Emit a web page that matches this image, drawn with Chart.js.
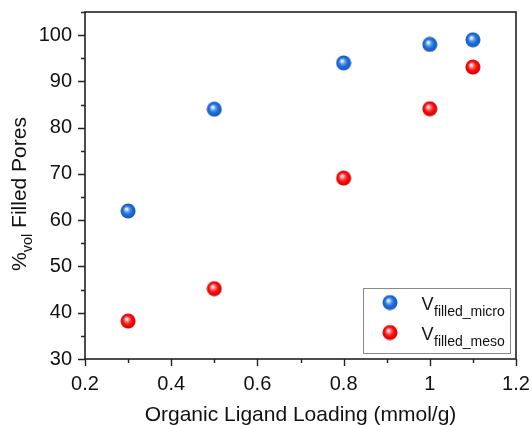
<!DOCTYPE html>
<html>
<head>
<meta charset="utf-8">
<script src="https://cdn.jsdelivr.net/npm/chart.js@4/dist/chart.umd.min.js"></script>
<style>
  html, body { margin: 0; padding: 0; background: #fff; }
  #wrap { width: 532px; height: 425px; }
</style>
</head>
<body>
<div id="wrap"><canvas id="c" width="532" height="425"></canvas></div>
<script>
// ---- data ----
const xValues = [0.3, 0.5, 0.8, 1.0, 1.1];
const microValues = [62, 84, 94, 98, 99];
const mesoValues = [38.2, 45.2, 69.1, 84.1, 93.1];
const seriesMain = ['V', 'V'];
const seriesSub = ['filled_micro', 'filled_meso'];
const xTicks = [0.2, 0.4, 0.6, 0.8, 1.0, 1.2];
const xTickLabels = ['0.2', '0.4', '0.6', '0.8', '1', '1.2'];
const yTicks = [30, 40, 50, 60, 70, 80, 90, 100];
const yTickLabels = ['30', '40', '50', '60', '70', '80', '90', '100'];
const xTitle = 'Organic Ligand Loading (mmol/g)';
const yTitleMain = '%';
const yTitleSub = 'vol';
const yTitleRest = ' Filled Pores';

const FONT = '"Liberation Sans", Arial, sans-serif';

function sphere(light, mid, base, dark) {
  const r = 7.5, s = 16;
  const cv = document.createElement('canvas');
  cv.width = s; cv.height = s;
  const g = cv.getContext('2d');
  const grd = g.createRadialGradient(s/2 - 1.8, s/2 - 2.2, 0.2, s/2, s/2, r);
  grd.addColorStop(0, '#ffffff');
  grd.addColorStop(0.12, light);
  grd.addColorStop(0.35, mid);
  grd.addColorStop(0.6, base);
  grd.addColorStop(1, dark);
  g.fillStyle = grd;
  g.beginPath(); g.arc(s/2, s/2, r, 0, Math.PI * 2); g.fill();
  return cv;
}
const blueBall = sphere('#d6e6fb', '#5b9bec', '#1f6fdc', '#1556b8');
const redBall = sphere('#ffd6d6', '#ff5a5a', '#ff0d0d', '#cf0000');

const framePlugin = {
  id: 'frame',
  afterDraw(chart) {
    const ctx = chart.ctx;
    const a = chart.chartArea;
    const xs = chart.scales.x, ys = chart.scales.y;
    ctx.save();
    ctx.strokeStyle = '#222';
    ctx.lineWidth = 1.6;
    ctx.strokeRect(a.left, a.top, a.right - a.left, a.bottom - a.top);
    ctx.lineWidth = 1.4;
    ctx.beginPath();
    for (let i = 0; i <= 10; i++) {
      const v = 0.2 + i * 0.1;
      const px = Math.round(xs.getPixelForValue(v)) + 0.5;
      const len = (i % 2 === 0) ? 7 : 4;
      ctx.moveTo(px, a.bottom); ctx.lineTo(px, a.bottom + len);
    }
    for (let v = 30; v <= 105; v += 5) {
      const py = Math.round(ys.getPixelForValue(v)) + 0.5;
      const len = (v % 10 === 0) ? 7 : 4;
      ctx.moveTo(a.left, py); ctx.lineTo(a.left - len, py);
    }
    ctx.stroke();

    ctx.fillStyle = '#111';
    ctx.font = '21px ' + FONT;
    ctx.textAlign = 'center';
    ctx.textBaseline = 'alphabetic';
    ctx.fillText(xTitle, (a.left + a.right) / 2, 421);

    ctx.save();
    ctx.translate(26, 194);
    ctx.rotate(-Math.PI / 2);
    ctx.textAlign = 'left';
    ctx.font = '21px ' + FONT;
    const w1 = ctx.measureText(yTitleMain).width;
    const w3 = ctx.measureText(yTitleRest).width;
    ctx.font = '14.5px ' + FONT;
    const w2 = ctx.measureText(yTitleSub).width;
    const total = w1 + w2 + w3;
    let x0 = -total / 2;
    ctx.font = '21px ' + FONT;
    ctx.fillText(yTitleMain, x0, 0);
    ctx.font = '14.5px ' + FONT;
    ctx.fillText(yTitleSub, x0 + w1, 6);
    ctx.font = '21px ' + FONT;
    ctx.fillText(yTitleRest, x0 + w1 + w2, 0);
    ctx.restore();

    const lx = 363, ly = 288, lw = 147, lh = 65;
    ctx.fillStyle = '#fff';
    ctx.fillRect(lx, ly, lw, lh);
    ctx.strokeStyle = '#8a8a8a';
    ctx.lineWidth = 1;
    ctx.strokeRect(lx + 0.5, ly + 0.5, lw, lh);
    const balls = [blueBall, redBall];
    const rowsY = [302.5, 332.5];
    for (let i = 0; i < 2; i++) {
      ctx.drawImage(balls[i], 390 - 8, rowsY[i] - 8);
      ctx.fillStyle = '#111';
      ctx.textAlign = 'left';
      ctx.font = '18px ' + FONT;
      ctx.fillText(seriesMain[i], 421.5, rowsY[i] + 7);
      const vw = ctx.measureText(seriesMain[i]).width;
      ctx.font = '14px ' + FONT;
      ctx.fillText(seriesSub[i], 421.5 + vw + 0.5, rowsY[i] + 13);
    }
    ctx.restore();
  }
};

new Chart(document.getElementById('c'), {
  type: 'scatter',
  data: {
    datasets: [
      {
        label: seriesMain[0] + seriesSub[0],
        data: xValues.map((x, i) => ({ x: x, y: microValues[i] })),
        pointStyle: blueBall,
        pointRadius: 8,
        pointHoverRadius: 8
      },
      {
        label: seriesMain[1] + seriesSub[1],
        data: xValues.map((x, i) => ({ x: x, y: mesoValues[i] })),
        pointStyle: redBall,
        pointRadius: 8,
        pointHoverRadius: 8
      }
    ]
  },
  options: {
    responsive: false,
    animation: false,
    events: [],
    layout: { autoPadding: false, padding: { left: 0, top: 12, right: 16, bottom: 0 } },
    plugins: { legend: { display: false }, tooltip: { enabled: false } },
    scales: {
      x: {
        type: 'linear',
        min: 0.2, max: 1.2,
        grid: { display: false, drawTicks: false },
        border: { display: false },
        afterBuildTicks: (s) => { s.ticks = xTicks.map(v => ({ value: v })); },
        afterFit: (s) => { s.height = 66; s.paddingLeft = 0; s.paddingRight = 0; },
        ticks: {
          padding: 13,
          color: '#111',
          font: { family: FONT, size: 20 },
          maxRotation: 0,
          callback: (v) => { const i = xTicks.findIndex(t => Math.abs(t - v) < 1e-6); return i >= 0 ? xTickLabels[i] : ''; }
        }
      },
      y: {
        type: 'linear',
        min: 30, max: 105,
        grid: { display: false, drawTicks: false },
        border: { display: false },
        afterBuildTicks: (s) => { s.ticks = yTicks.map(v => ({ value: v })); },
        afterFit: (s) => { s.width = 85; s.paddingTop = 0; s.paddingBottom = 0; },
        ticks: {
          padding: 13,
          color: '#111',
          font: { family: FONT, size: 20 },
          callback: (v) => { const i = yTicks.indexOf(v); return i >= 0 ? yTickLabels[i] : ''; }
        }
      }
    }
  },
  plugins: [framePlugin]
});
</script>
</body>
</html>
